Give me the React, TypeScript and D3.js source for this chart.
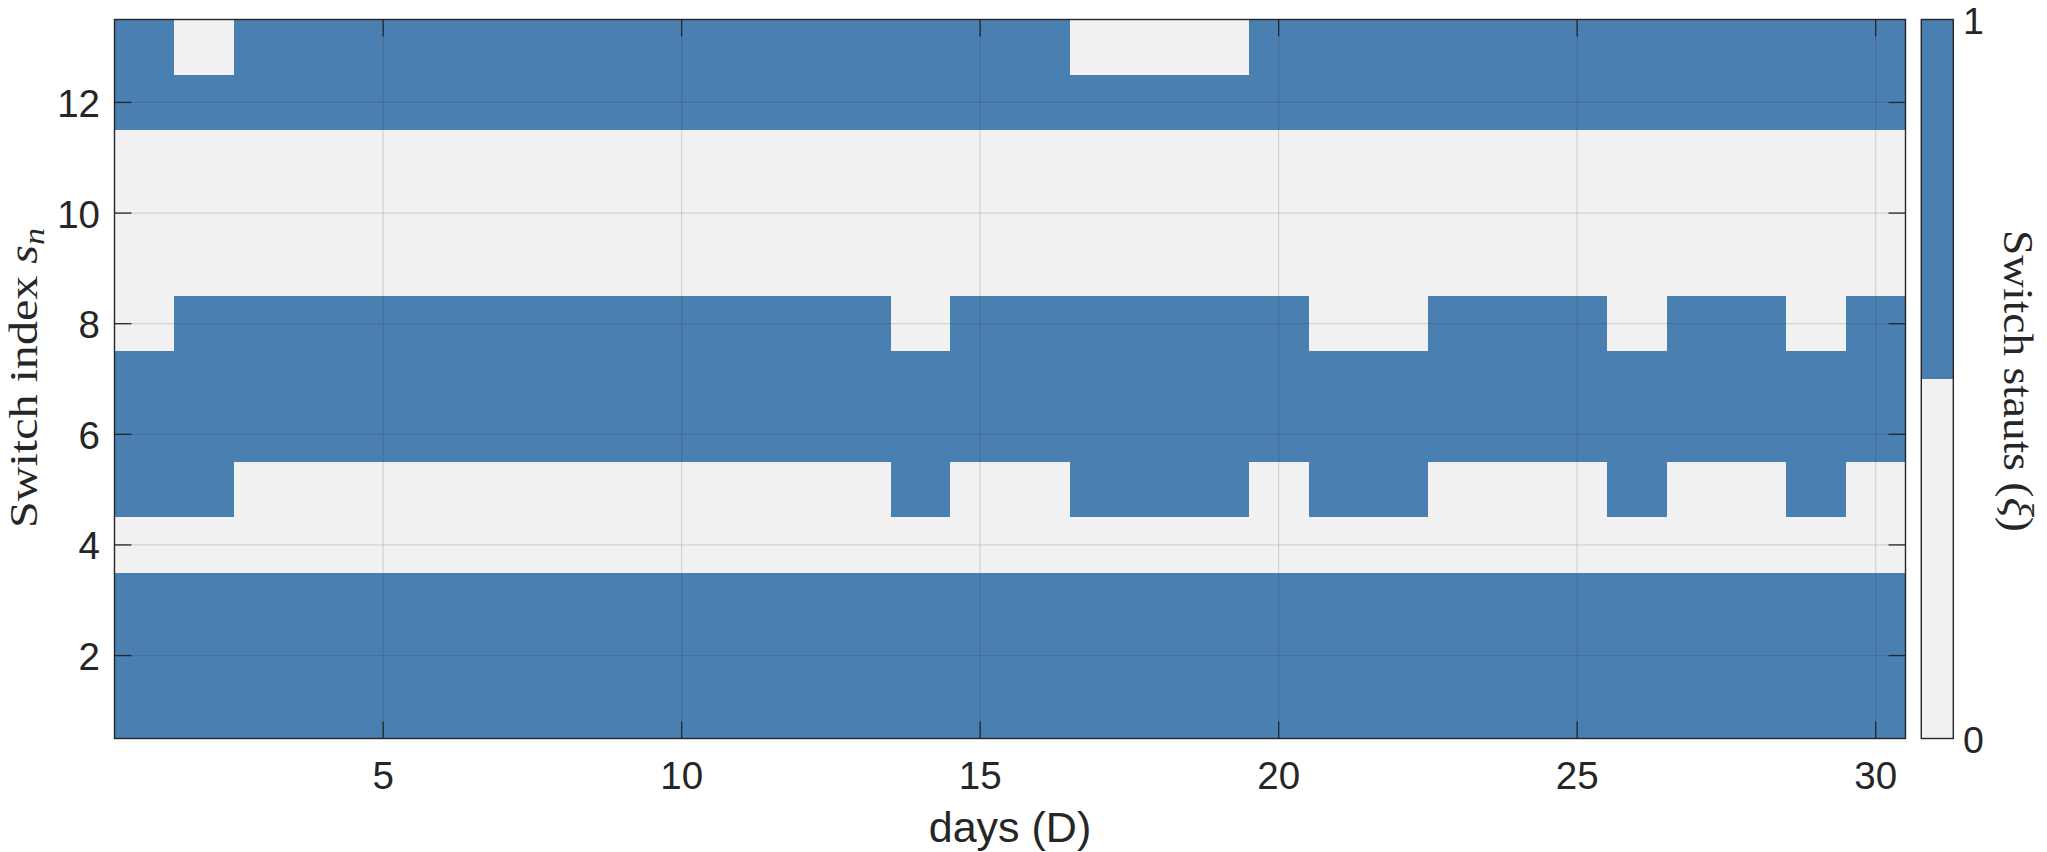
import React from "react";
import * as d3 from "d3";

const days = [1,2,3,4,5,6,7,8,9,10,11,12,13,14,15,16,17,18,19,20,21,22,23,24,25,26,27,28,29,30];
const switchIndex = [1,2,3,4,5,6,7,8,9,10,11,12,13];

// status rows: index 0 -> switch 1 ... index 12 -> switch 13
const s1 = [1,1,1,1,1,1,1,1,1,1,1,1,1,1,1,1,1,1,1,1,1,1,1,1,1,1,1,1,1,1];
const s2 = [1,1,1,1,1,1,1,1,1,1,1,1,1,1,1,1,1,1,1,1,1,1,1,1,1,1,1,1,1,1];
const s3 = [1,1,1,1,1,1,1,1,1,1,1,1,1,1,1,1,1,1,1,1,1,1,1,1,1,1,1,1,1,1];
const s4 = [0,0,0,0,0,0,0,0,0,0,0,0,0,0,0,0,0,0,0,0,0,0,0,0,0,0,0,0,0,0];
const s5 = [1,1,0,0,0,0,0,0,0,0,0,0,0,1,0,0,1,1,1,0,1,1,0,0,0,1,0,0,1,0];
const s6 = [1,1,1,1,1,1,1,1,1,1,1,1,1,1,1,1,1,1,1,1,1,1,1,1,1,1,1,1,1,1];
const s7 = [1,1,1,1,1,1,1,1,1,1,1,1,1,1,1,1,1,1,1,1,1,1,1,1,1,1,1,1,1,1];
const s8 = [0,1,1,1,1,1,1,1,1,1,1,1,1,0,1,1,1,1,1,1,0,0,1,1,1,0,1,1,0,1];
const s9 = [0,0,0,0,0,0,0,0,0,0,0,0,0,0,0,0,0,0,0,0,0,0,0,0,0,0,0,0,0,0];
const s10 = [0,0,0,0,0,0,0,0,0,0,0,0,0,0,0,0,0,0,0,0,0,0,0,0,0,0,0,0,0,0];
const s11 = [0,0,0,0,0,0,0,0,0,0,0,0,0,0,0,0,0,0,0,0,0,0,0,0,0,0,0,0,0,0];
const s12 = [1,1,1,1,1,1,1,1,1,1,1,1,1,1,1,1,1,1,1,1,1,1,1,1,1,1,1,1,1,1];
const s13 = [1,0,1,1,1,1,1,1,1,1,1,1,1,1,1,1,0,0,0,1,1,1,1,1,1,1,1,1,1,1];
const statusRows = [s1,s2,s3,s4,s5,s6,s7,s8,s9,s10,s11,s12,s13];

const xTicks = [5,10,15,20,25,30];
const yTicks = [2,4,6,8,10,12];
const cbTicks = [0,1];

const BLUE = "#4a7fb1";
const GRAY = "#f1f1f1";
const INK = "#262626";

export default function App() {
  const left = 114.5, right = 1905.5, top = 19.5, bottom = 738.5;
  const x = d3.scaleLinear().domain([0.5, 30.5]).range([left, right]);
  const y = d3.scaleLinear().domain([0.5, 13.5]).range([bottom, top]);
  const color = d3.scaleOrdinal<number, string>().domain([0, 1]).range([GRAY, BLUE]);
  const cbLeft = 1921.3, cbRight = 1953.3;
  const cb = d3.scaleLinear().domain([0, 1]).range([bottom, top]);
  const tickLen = 17;
  const sansFont = "'Liberation Sans', Arial, Helvetica, sans-serif";
  const serifFont = "'Liberation Serif', 'DejaVu Serif', serif";

  const cells: React.ReactNode[] = [];
  switchIndex.forEach((s, i) => {
    days.forEach((d, j) => {
      const v = statusRows[i][j];
      cells.push(
        <rect key={`${s}-${d}`} x={x(d - 0.5)} y={y(s + 0.5)}
          width={x(d + 0.5) - x(d - 0.5)} height={y(s - 0.5) - y(s + 0.5)}
          fill={color(v)} shapeRendering="crispEdges" />
      );
    });
  });

  return (
    <svg width={2047} height={852} style={{ position: "absolute", left: 0, top: 0, background: "#fff" }}>
      {cells}
      {/* grid */}
      {xTicks.map(t => (
        <line key={`gx${t}`} x1={x(t)} x2={x(t)} y1={top} y2={bottom} stroke="rgba(38,38,38,0.15)" strokeWidth={1.2} />
      ))}
      {yTicks.map(t => (
        <line key={`gy${t}`} x1={left} x2={right} y1={y(t)} y2={y(t)} stroke="rgba(38,38,38,0.15)" strokeWidth={1.2} />
      ))}
      {/* ticks */}
      {xTicks.map(t => (
        <g key={`tx${t}`}>
          <line x1={x(t)} x2={x(t)} y1={bottom} y2={bottom - tickLen} stroke={INK} strokeWidth={1.3} />
          <line x1={x(t)} x2={x(t)} y1={top} y2={top + tickLen} stroke={INK} strokeWidth={1.3} />
          <text x={x(t)} y={789} textAnchor="middle" fontFamily={sansFont} fontSize={38.5} fill={INK}>{t}</text>
        </g>
      ))}
      {yTicks.map(t => (
        <g key={`ty${t}`}>
          <line x1={left} x2={left + tickLen} y1={y(t)} y2={y(t)} stroke={INK} strokeWidth={1.3} />
          <line x1={right} x2={right - tickLen} y1={y(t)} y2={y(t)} stroke={INK} strokeWidth={1.3} />
          <text x={100} y={y(t) + 14.5} textAnchor="end" fontFamily={sansFont} fontSize={38.5} fill={INK}>{t}</text>
        </g>
      ))}
      {/* axes box */}
      <rect x={left} y={top} width={right - left} height={bottom - top} fill="none" stroke={INK} strokeWidth={1.4} />
      {/* x label */}
      <text x={(left + right) / 2} y={842} textAnchor="middle" fontFamily={sansFont} fontSize={43} fill={INK}>days (D)</text>
      {/* y label */}
      <text transform="translate(37,378) rotate(-90)" textAnchor="middle" fontFamily={serifFont} fontSize={41} fill={INK}
        textLength={300} lengthAdjust="spacingAndGlyphs">
        Switch index <tspan fontStyle="italic">s</tspan><tspan fontStyle="italic" fontSize={29} dy={7}>n</tspan>
      </text>
      {/* colorbar */}
      <rect x={cbLeft} y={cb(0.5)} width={cbRight - cbLeft} height={cb(0) - cb(0.5)} fill={GRAY} shapeRendering="crispEdges" />
      <rect x={cbLeft} y={cb(1)} width={cbRight - cbLeft} height={cb(0.5) - cb(1)} fill={BLUE} shapeRendering="crispEdges" />
      <rect x={cbLeft} y={top} width={cbRight - cbLeft} height={bottom - top} fill="none" stroke={INK} strokeWidth={1.4} />
      {cbTicks.map(t => (
        <text key={`cb${t}`} x={1963} y={cb(t) + 14} textAnchor="start" fontFamily={sansFont} fontSize={37.5} fill={INK}>{t}</text>
      ))}
      <text transform="translate(2004,381) rotate(90)" textAnchor="middle" fontFamily={serifFont} fontSize={42} fill={INK}
        textLength={302} lengthAdjust="spacingAndGlyphs">
        Switch stauts (<tspan fontStyle="italic">ξ</tspan>)
      </text>
    </svg>
  );
}
